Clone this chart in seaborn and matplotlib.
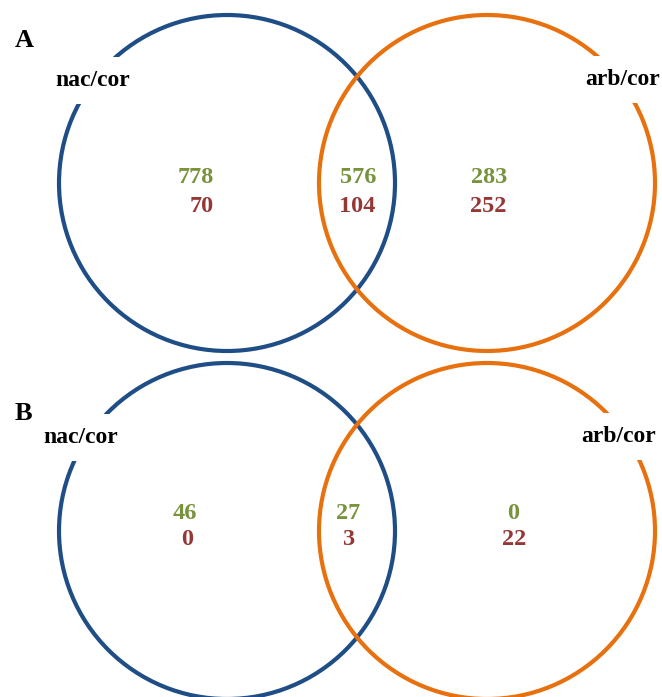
import matplotlib
matplotlib.use("Agg")
import matplotlib.pyplot as plt
from matplotlib.patches import Circle
import seaborn as sns

# data
panels = ["A", "B"]
set_names = ["nac/cor", "arb/cor"]
# counts per region: only nac/cor, shared, only arb/cor
green_counts = [[778, 576, 283], [46, 27, 0]]
red_counts = [[70, 104, 252], [0, 3, 22]]

sns.set_theme(style="white")
plt.rcParams["font.family"] = ["Liberation Serif", "DejaVu Serif"]

blue = "#1F4E87"
orange = "#E8710F"
green = "#77933C"
red = "#953735"

# layout in pixels
W, H = 662, 697
circle_y = [183, 531]
circle_x = [227, 487]
radius = 168
panel_xy = [(15, 47), (15, 420)]
name_xy = [[(55, 86), (585, 85)], [(43, 443), (581, 442)]]
green_x = [[196, 358, 489], [185, 348, 513]]
red_x = [[202, 357, 488], [187, 349, 514]]
green_y = [183, 519]
red_y = [212, 545]

fig = plt.figure(figsize=(W / 100, H / 100), dpi=100)
ax = fig.add_axes([0, 0, 1, 1])
ax.set_xlim(0, W)
ax.set_ylim(H, 0)
ax.axis("off")

for p, panel in enumerate(panels):
    for c, col in enumerate([blue, orange]):
        ax.add_patch(Circle((circle_x[c], circle_y[p]), radius, fill=False,
                            edgecolor=col, linewidth=3, zorder=1))
    ax.text(*panel_xy[p], panel, fontsize=19, fontweight="bold",
            ha="left", va="baseline", color="black", zorder=5)
    for s, name in enumerate(set_names):
        ax.text(*name_xy[p][s], name, fontsize=17, fontweight="bold",
                ha="left", va="baseline", color="black", zorder=3,
                bbox=dict(boxstyle="square,pad=0.55", facecolor="white",
                          edgecolor="none"))
    for r in range(3):
        ax.text(green_x[p][r], green_y[p], str(green_counts[p][r]),
                fontsize=17.5, fontweight="bold", color=green,
                ha="center", va="baseline", zorder=3)
        ax.text(red_x[p][r], red_y[p], str(red_counts[p][r]),
                fontsize=17.5, fontweight="bold", color=red,
                ha="center", va="baseline", zorder=3)

fig.savefig("out.png", dpi=100, facecolor="white")
